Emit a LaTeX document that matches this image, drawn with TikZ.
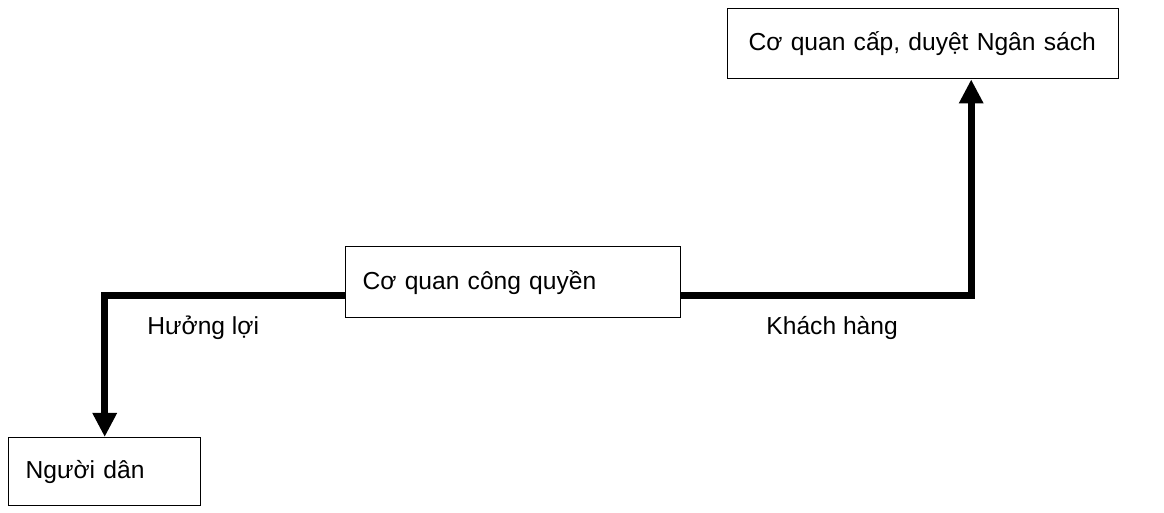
\documentclass[tikz,border=0pt]{standalone}
\usepackage{fontspec}
\setmainfont{Liberation Sans}
\usepackage{tikz}
\usetikzlibrary{arrows.meta,positioning}

\begin{document}
\begin{tikzpicture}[>={Triangle[length=0.48cm,width=0.46cm]},
                    font=\fontsize{14}{17}\selectfont]
  \tikzstyle{box}=[draw,line width=0.8pt,anchor=north west,align=left,
                   inner xsep=0.34cm,inner ysep=0pt]
  \tikzstyle{flow}=[->,line width=4pt]

  \useasboundingbox (0,0) rectangle (23.28,10.26);

  \node[box,text width=6.98cm,minimum height=1.4cm,inner xsep=0.42cm]
        (budget) at (14.54,10.10) {Cơ quan cấp, duyệt Ngân sách};
  \node[box,text width=6.02cm,minimum height=1.42cm]
        (govt) at (6.90,5.34) {Cơ quan công quyền};
  \node[box,text width=3.16cm,minimum height=1.36cm]
        (citizen) at (0.16,1.52) {Người dân};

  \draw[flow] ([yshift=-0.27cm]govt.west) -| node[pos=0.295,below=0.22cm] {Hưởng lợi}
        (citizen.north);
  \draw[flow] ([yshift=-0.27cm]govt.east) -| node[pos=0.26,below=0.22cm] {Khách hàng}
        ([xshift=0.96cm]budget.south);
\end{tikzpicture}
\end{document}
